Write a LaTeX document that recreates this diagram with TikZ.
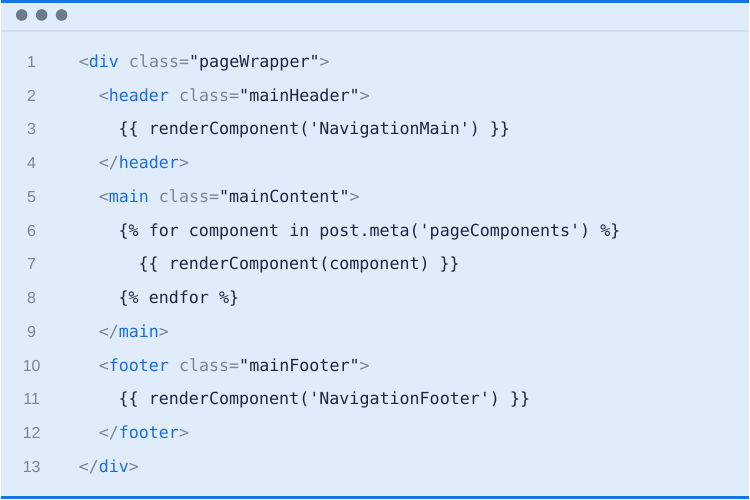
\documentclass[tikz,border=0pt]{standalone}
\usepackage{fontspec}
\setmainfont{Liberation Sans}
\newfontfamily\codefont{DejaVu Sans Mono}
\definecolor{panelbg}{HTML}{E1ECFB}
\definecolor{edgeblue}{HTML}{1A73E8}
\definecolor{dotgrey}{HTML}{6B7B8F}
\definecolor{rulegrey}{HTML}{D3DEEE}
\definecolor{tagblue}{HTML}{1A6FDF}
\definecolor{punctgrey}{HTML}{7C8594}
\definecolor{codenavy}{HTML}{1C2740}
\newcommand\tagtxt[1]{\textcolor{tagblue}{#1}}
\newcommand\greytxt[1]{\textcolor{punctgrey}{#1}}
\tikzset{
  codeline/.style={anchor=base west, inner sep=0pt, text=codenavy,
    font=\codefont\fontsize{16.7}{18}\selectfont},
  linenum/.style={anchor=base, inner sep=0pt, text=punctgrey,
    font=\fontsize{16}{18}\selectfont},
  winbutton/.style={fill=dotgrey}
}
\begin{document}
\begin{tikzpicture}[x=1pt,y=1pt]
    % panel and frame
    \fill[panelbg] (0,0) rectangle (750,500);
    \fill[edgeblue] (0,497) rectangle (750,500);
    \fill[edgeblue] (0,0) rectangle (750,3.5);
    \draw[rulegrey, line width=1.5pt] (0,469) -- (750,469);
    \fill[winbutton] (21,485) circle (5.8);
    \fill[winbutton] (41,485) circle (5.8);
    \fill[winbutton] (61,485) circle (5.8);
    % line numbers
    \node[linenum] (n1) at (31,432.5) {1};
    \node[linenum] (n2) at (31,398.7) {2};
    \node[linenum] (n3) at (31,364.8) {3};
    \node[linenum] (n4) at (31,331) {4};
    \node[linenum] (n5) at (31,297.2) {5};
    \node[linenum] (n6) at (31,263.3) {6};
    \node[linenum] (n7) at (31,229.5) {7};
    \node[linenum] (n8) at (31,195.7) {8};
    \node[linenum] (n9) at (31,161.8) {9};
    \node[linenum] (n10) at (31,128) {10};
    \node[linenum] (n11) at (31,94.2) {11};
    \node[linenum] (n12) at (31,60.3) {12};
    \node[linenum] (n13) at (31,26.5) {13};
    % code
    \node[codeline] (divopen) at (78,432.5) {\greytxt{<}\tagtxt{div} \greytxt{class=}"pageWrapper"\greytxt{>}};
    \node[codeline] (headeropen) at (98,398.7) {\greytxt{<}\tagtxt{header} \greytxt{class=}"mainHeader"\greytxt{>}};
    \node[codeline] (navmain) at (118,364.8) {\{\{ renderComponent('NavigationMain') \}\}};
    \node[codeline] (headerclose) at (98,331) {\greytxt{</}\tagtxt{header}\greytxt{>}};
    \node[codeline] (mainopen) at (98,297.2) {\greytxt{<}\tagtxt{main} \greytxt{class=}"mainContent"\greytxt{>}};
    \node[codeline] (forloop) at (118,263.3) {\{\% for component in post.meta('pageComponents') \%\}};
    \node[codeline] (rendercomp) at (138,229.5) {\{\{ renderComponent(component) \}\}};
    \node[codeline] (endloop) at (118,195.7) {\{\% endfor \%\}};
    \node[codeline] (mainclose) at (98,161.8) {\greytxt{</}\tagtxt{main}\greytxt{>}};
    \node[codeline] (footeropen) at (98,128) {\greytxt{<}\tagtxt{footer} \greytxt{class=}"mainFooter"\greytxt{>}};
    \node[codeline] (navfooter) at (118,94.2) {\{\{ renderComponent('NavigationFooter') \}\}};
    \node[codeline] (footerclose) at (98,60.3) {\greytxt{</}\tagtxt{footer}\greytxt{>}};
    \node[codeline] (divclose) at (78,26.5) {\greytxt{</}\tagtxt{div}\greytxt{>}};
\end{tikzpicture}
\end{document}
